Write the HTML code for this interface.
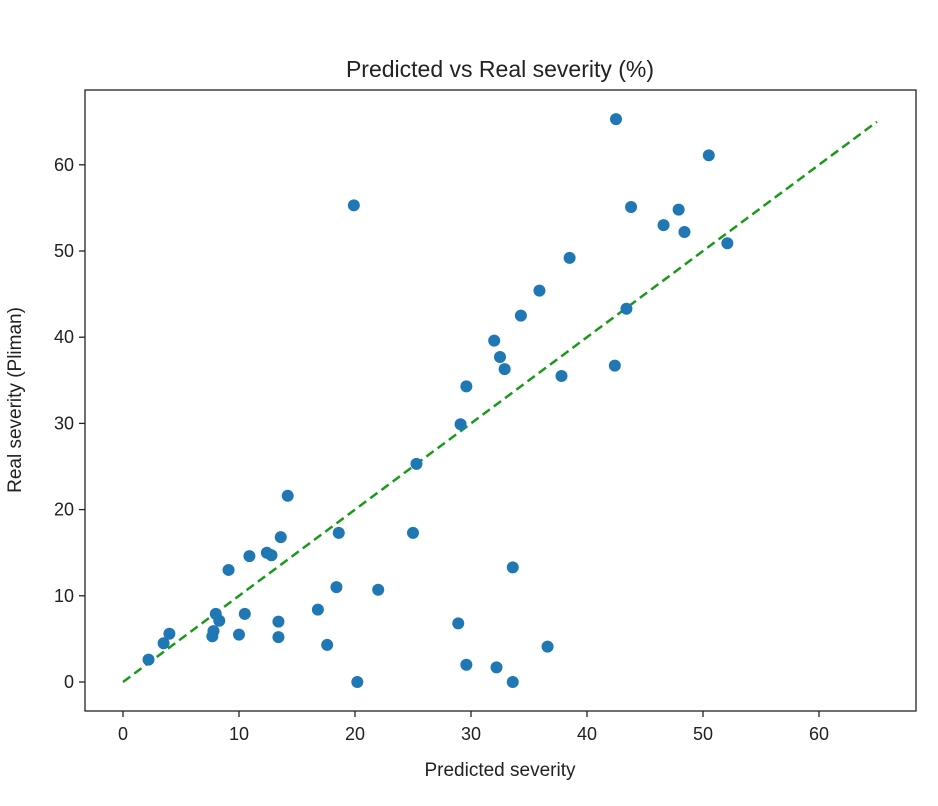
<!DOCTYPE html>
<html><head><meta charset="utf-8"><style>
body{margin:0;background:#fff;font-family:"Liberation Sans",sans-serif;}
svg text{font-family:"Liberation Sans",sans-serif;fill:#222;}
</style></head><body>
<svg width="938" height="801" id="c"></svg>
<script>
const predicted=[42.5,50.5,43.8,19.9,47.9,46.6,48.4,52.1,38.5,35.9,43.4,34.3,32.0,32.5,32.9,42.4,37.8,29.6,29.1,25.3,14.2,25.0,18.6,13.6,12.4,12.8,10.9,9.1,33.6,18.4,22.0,16.8,8.0,10.5,8.3,13.4,28.9,7.8,7.7,10.0,13.4,4.0,3.5,17.6,36.6,2.2,29.6,32.2,20.2,33.6];
const real=[65.3,61.1,55.1,55.3,54.8,53.0,52.2,50.9,49.2,45.4,43.3,42.5,39.6,37.7,36.3,36.7,35.5,34.3,29.9,25.3,21.6,17.3,17.3,16.8,15.0,14.7,14.6,13.0,13.3,11.0,10.7,8.4,7.9,7.9,7.1,7.0,6.8,5.9,5.3,5.5,5.2,5.6,4.5,4.3,4.1,2.6,2.0,1.7,0,0];
const xTicks=[0,10,20,30,40,50,60];
const yTicks=[0,10,20,30,40,50,60];
const fitLine=[0,65];
const NS="http://www.w3.org/2000/svg";
const svg=document.getElementById('c');
const X=v=>123+v*11.6, Y=v=>682-v*8.62;
function mk(t,a,p){const e=document.createElementNS(NS,t);for(const k in a)e.setAttribute(k,a[k]);(p||svg).appendChild(e);return e;}
const frame=mk('rect',{x:85,y:90,width:831,height:621,fill:'none',stroke:'#222','stroke-width':1.3});


xTicks.forEach(v=>{
 const l=mk('line',{x1:X(v),x2:X(v),y1:711,y2:717,stroke:'#222','stroke-width':1.3});
 
 
 const t=mk('text',{x:X(v),y:740,'text-anchor':'middle','font-size':18});t.textContent=v;
 
 
});
yTicks.forEach(v=>{
 const l=mk('line',{x1:79,x2:85,y1:Y(v),y2:Y(v),stroke:'#222','stroke-width':1.3});
 
 
 const t=mk('text',{x:74,y:Y(v)+6,'text-anchor':'end','font-size':18});t.textContent=v;
 
 
});
const fl=mk('line',{x1:X(fitLine[0]),y1:Y(fitLine[0]),x2:X(fitLine[1]),y2:Y(fitLine[1]),stroke:'#1a9a1a','stroke-width':2.5,'stroke-dasharray':'9,5'});


predicted.forEach((p,i)=>{
 const c=mk('circle',{cx:X(p),cy:Y(real[i]),r:6,fill:'#1f77b4'});
 
 
});
const tt=mk('text',{x:500,y:77,'text-anchor':'middle','font-size':23});tt.textContent='Predicted vs Real severity (%)';


const xl=mk('text',{x:500,y:776,'text-anchor':'middle','font-size':19});xl.textContent='Predicted severity';


const yl=mk('text',{x:0,y:0,'text-anchor':'middle','font-size':19,transform:'translate(21,400) rotate(-90)'});yl.textContent='Real severity (Pliman)';


</script>
</body></html>
